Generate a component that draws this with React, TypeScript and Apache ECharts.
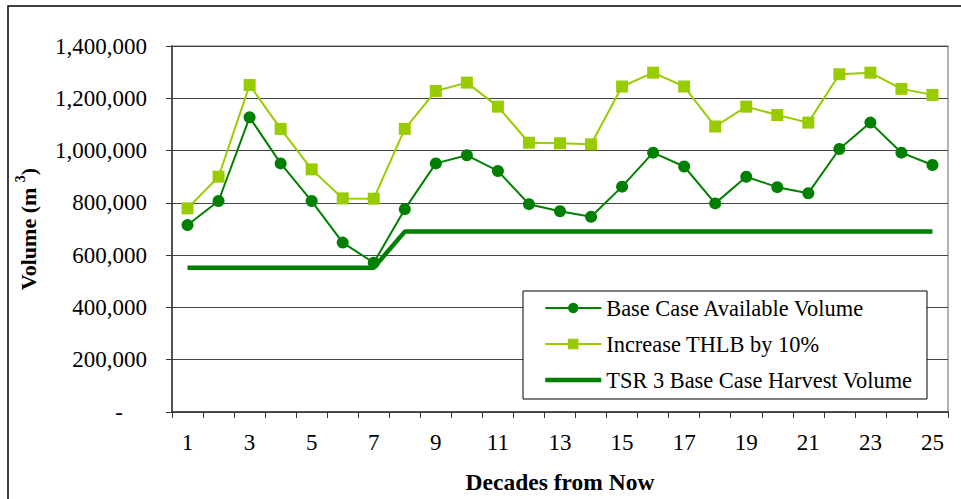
import React, { useEffect, useRef } from "react";
import * as echarts from "echarts";

const decades = ["1","2","3","4","5","6","7","8","9","10","11","12","13","14","15","16","17","18","19","20","21","22","23","24","25"];
const baseCase = [715000, 807000, 1127000, 951000, 807000, 648000, 571000, 776000, 951000, 982000, 922000, 795000, 768000, 747000, 862000, 992000, 939000, 798000, 900000, 860000, 837000, 1006000, 1107000, 992000, 945000];
const increaseTHLB = [779000, 900000, 1251000, 1083000, 928000, 817000, 816000, 1083000, 1228000, 1260000, 1168000, 1030000, 1028000, 1024000, 1245000, 1298000, 1245000, 1092000, 1168000, 1136000, 1107000, 1292000, 1298000, 1236000, 1213000];
const tsrHarvest = [552000, 552000, 552000, 552000, 552000, 552000, 552000, 690000, 690000, 690000, 690000, 690000, 690000, 690000, 690000, 690000, 690000, 690000, 690000, 690000, 690000, 690000, 690000, 690000, 690000];
const seriesNames = ["Base Case Available Volume", "Increase THLB by 10%", "TSR 3 Base Case Harvest Volume"];

const FONT = "Liberation Serif, Times New Roman, serif";

export default function App() {
  const ref = useRef<HTMLDivElement>(null);
  useEffect(() => {
    document.body.style.margin = "0";
    if (!ref.current) return;
    const chart = echarts.init(ref.current, null, { renderer: "svg" });
    chart.setOption({
      animation: false,
      backgroundColor: "#fff",
      textStyle: { fontFamily: FONT },
      graphic: [
        {
          type: "rect",
          shape: { x: 8, y: 6, width: 970, height: 520 },
          style: { fill: "none", stroke: "#000", lineWidth: 1.5 },
          silent: true,
          z: -1,
        },
        {
          type: "rect",
          shape: { x: 523, y: 291, width: 404, height: 108 },
          style: { fill: "#fff", stroke: "#000", lineWidth: 1 },
          silent: true,
          z: 3,
        },
      ],
      grid: {
        left: 172,
        right: 13,
        top: 46,
        bottom: 87,
        show: true,
        borderColor: "#999",
        borderWidth: 1.5,
        backgroundColor: "transparent",
      },
      legend: {
        orient: "vertical",
        left: 543,
        top: 297,
        padding: 0,
        z: 4,
        itemWidth: 56,
        itemHeight: 13,
        itemGap: 14,
        textStyle: { fontFamily: FONT, fontSize: 22.4, color: "#000", lineHeight: 21 },
        data: [
          { name: seriesNames[0] },
          { name: seriesNames[1] },
          { name: seriesNames[2], itemStyle: { opacity: 0 }, lineStyle: { width: 4.5, color: "#008000" } },
        ],
      },
      xAxis: {
        type: "category",
        data: decades,
        boundaryGap: true,
        name: "Decades from Now",
        nameLocation: "middle",
        nameGap: 58,
        nameTextStyle: { fontFamily: FONT, fontSize: 23.5, fontWeight: "bold", color: "#000" },
        axisLine: { lineStyle: { color: "#333", width: 1.5 } },
        axisTick: { show: true, interval: 0, length: 6, inside: false, lineStyle: { color: "#333" } },
        axisLabel: { interval: 1, margin: 19, fontFamily: FONT, fontSize: 23, color: "#000" },
        splitLine: { show: false },
      },
      yAxis: {
        type: "value",
        min: 0,
        max: 1400000,
        interval: 200000,
        name: "{t|Volume (m }{s|3}{t|)}",
        nameLocation: "middle",
        nameGap: 133,
        nameTextStyle: {
          rich: {
            t: { fontFamily: FONT, fontSize: 22, fontWeight: "bold", color: "#000", lineHeight: 26, verticalAlign: "bottom" },
            s: { fontFamily: FONT, fontSize: 14, fontWeight: "bold", color: "#000", lineHeight: 26, verticalAlign: "top" },
          },
        },
        axisLine: { show: true, lineStyle: { color: "#333", width: 1.5 } },
        axisTick: { show: true, length: 6, inside: false, lineStyle: { color: "#333" } },
        axisLabel: {
          margin: 25,
          fontFamily: FONT,
          fontSize: 23,
          color: "#000",
          formatter: (v: number) => (v === 0 ? "{z|-}" : v.toLocaleString("en-US")),
          rich: { z: { fontFamily: FONT, fontSize: 23, color: "#000", padding: [0, 24, 0, 0] } },
        },
        splitLine: { show: true, lineStyle: { color: "#444", width: 1 } },
      },
      series: [
        {
          name: seriesNames[0],
          type: "line",
          data: baseCase,
          symbol: "circle",
          symbolSize: 12,
          itemStyle: { color: "#008000" },
          lineStyle: { color: "#008000", width: 2 },
        },
        {
          name: seriesNames[1],
          type: "line",
          data: increaseTHLB,
          symbol: "rect",
          symbolSize: 12,
          itemStyle: { color: "#99CC00" },
          lineStyle: { color: "#99CC00", width: 2 },
        },
        {
          name: seriesNames[2],
          type: "line",
          data: tsrHarvest,
          symbol: "none",
          itemStyle: { color: "#008000" },
          lineStyle: { color: "#008000", width: 4.5 },
        },
      ],
    });
    return () => chart.dispose();
  }, []);
  return <div ref={ref} style={{ width: 961, height: 499 }} />;
}
